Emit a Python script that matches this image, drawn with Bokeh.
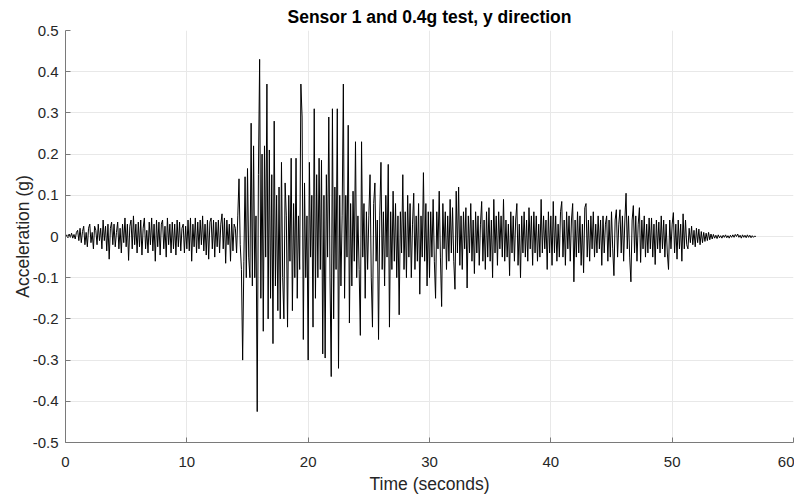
import numpy as np
from bokeh.plotting import figure
from bokeh.models import Range1d, ColumnDataSource
from bokeh.embed import file_html
from bokeh.resources import INLINE

dt = 0.1  # sample interval (s)

accel_pre = [
    0.000, 0.004, -0.003, 0.006, -0.002, 0.008, -0.004, 0.005, -0.006, 0.010,
    0.015, -0.010, 0.020, -0.015, 0.012, 0.025, -0.020, 0.010, -0.025, 0.020,
    0.030, -0.015, 0.010, -0.030, 0.025, 0.015, -0.020, 0.030, -0.010, 0.020,
    -0.030, 0.040, -0.010, 0.025, -0.035, 0.030, -0.055, 0.020, 0.035, -0.020,
    0.030, -0.025, 0.010, 0.035, -0.030, 0.020, -0.040, 0.030, -0.015, 0.045,
    -0.025, 0.030, -0.058, 0.025, 0.040, -0.030, 0.050, -0.020, 0.030, -0.040,
    0.035, -0.025, 0.040, -0.045, 0.020, 0.045, -0.030, 0.015, -0.040, 0.035,
    -0.020, 0.045, -0.035, 0.030, -0.060, 0.040, -0.025, 0.035, -0.045, 0.030,
    0.040, -0.030, 0.025, -0.050, 0.045, -0.020, 0.030, -0.040, 0.035, -0.030,
    0.030, -0.045, 0.040, -0.025, 0.035, -0.035, 0.020, 0.030, -0.040, 0.025,
    -0.030, 0.040, -0.035, 0.045, -0.060, 0.030, -0.025, 0.045, -0.040, 0.035,
    -0.030, 0.040, -0.020, 0.050, -0.035, 0.030, -0.045, 0.040, -0.055, 0.035,
    0.045, -0.030, 0.040, -0.050, 0.035, -0.025, 0.040, -0.040, 0.030, 0.055,
    -0.030, 0.045, -0.065, 0.040, -0.020, 0.030, -0.060, 0.045, -0.035, 0.030,
]

accel_strong = [
    0.020, -0.040, 0.050, 0.140, -0.020, -0.080, -0.300, -0.060, 0.145, -0.100,
    0.165, -0.050, -0.100, 0.275, -0.120, 0.220, -0.100, 0.050, -0.425, 0.150,
    0.430, -0.150, 0.200, -0.230, 0.220, -0.050, 0.370, -0.200, 0.210, -0.150,
    0.150, -0.260, 0.280, -0.120, 0.100, -0.180, 0.120, -0.200, 0.180, -0.100,
    -0.200, 0.130, 0.050, -0.220, 0.100, -0.060, 0.190, -0.180, 0.080, -0.100,
    0.190, -0.150, 0.050, -0.080, 0.370, 0.290, -0.250, 0.130, -0.100, 0.050,
    -0.300, 0.180, -0.050, 0.100, -0.220, 0.310, -0.150, 0.150, -0.100, 0.190,
    -0.080, 0.185, -0.285, 0.100, -0.295, 0.150, -0.050, 0.290, -0.100, -0.340,
    0.310, -0.200, 0.120, -0.080, 0.310, -0.320, 0.100, -0.120, 0.050, 0.370,
    -0.150, 0.100, -0.050, 0.270, -0.210, 0.080, -0.120, 0.110, -0.060, 0.230,
    -0.100, 0.050, -0.080, -0.240, 0.230, -0.050, 0.080, -0.150, 0.060, -0.080,
    0.050, 0.150, -0.100, -0.220, 0.080, 0.130, -0.060, 0.040, -0.250, 0.050,
    0.180, -0.080, 0.060, -0.120, 0.100, -0.050, 0.175, -0.220, 0.060, -0.080,
    0.110, -0.060, 0.080, -0.100, 0.050, -0.190, 0.060, -0.040, 0.150, -0.080,
    0.060, -0.100, 0.100, -0.050, 0.080, -0.100, 0.030, 0.105, -0.080, 0.050,
    -0.060, 0.080, -0.140, 0.050, -0.050, 0.155, -0.060, 0.080, -0.120, 0.060,
]

accel_decay = [
    -0.100, 0.060, -0.050, 0.090, -0.060, -0.150, 0.060, -0.030, 0.110, -0.050,
    -0.170, 0.080, -0.030, 0.060, -0.080, 0.050, -0.060, 0.090, -0.040, 0.070,
    -0.060, -0.128, 0.110, -0.040, 0.120, -0.070, 0.050, -0.080, 0.060, -0.030,
    0.070, -0.125, 0.050, -0.040, 0.080, -0.060, 0.040, -0.090, 0.060, -0.040,
    0.050, -0.070, 0.030, 0.085, -0.060, 0.040, -0.080, 0.060, -0.050, 0.070,
    -0.060, 0.040, -0.100, 0.090, -0.040, 0.050, -0.070, 0.060, -0.030, 0.050,
    -0.050, 0.090, -0.060, 0.040, -0.050, 0.030, -0.095, 0.060, -0.040, 0.050,
    -0.060, 0.040, 0.080, -0.070, 0.030, -0.100, 0.050, -0.040, 0.060, -0.050,
    0.040, -0.060, 0.070, -0.030, 0.050, -0.070, 0.060, -0.040, 0.050, -0.060,
    0.030, -0.050, 0.090, -0.040, 0.050, -0.030, 0.040, -0.080, 0.060, -0.040,
    0.050, -0.070, 0.085, -0.040, 0.050, -0.060, 0.030, -0.050, 0.060, 0.085,
    -0.050, 0.040, -0.070, 0.060, -0.030, 0.050, -0.060, 0.040, 0.080, -0.110,
    0.040, -0.050, 0.060, -0.040, 0.050, -0.070, 0.030, -0.088, 0.070, 0.080,
    -0.050, 0.040, -0.060, 0.050, -0.030, 0.060, -0.050, 0.030, -0.040, 0.050,
    -0.030, 0.040, -0.070, 0.050, -0.040, 0.030, 0.050, -0.060, 0.040, -0.050,
    0.060, -0.030, -0.095, 0.040, 0.065, -0.050, 0.030, 0.065, -0.040, 0.050,
    -0.060, 0.040, 0.105, -0.030, 0.050, -0.050, -0.110, 0.040, 0.075, -0.040,
    0.050, -0.060, 0.030, 0.070, -0.063, 0.040, -0.030, 0.050, -0.050, 0.030,
    -0.040, 0.045, -0.030, 0.045, -0.050, 0.030, -0.068, 0.040, -0.030, 0.035,
    -0.040, 0.050, -0.030, 0.040, -0.050, 0.030, -0.040, -0.080, 0.040, -0.030,
    0.030, 0.058, -0.040, 0.030, -0.055, 0.040, -0.030, 0.030, -0.060, 0.055,
    -0.030, 0.040, -0.020, -0.030, 0.020, -0.015, 0.025, -0.020, 0.015, -0.025,
]

accel_tail = [
    0.020, -0.015, 0.018, -0.020, 0.012, -0.015, 0.010, -0.012, 0.008, -0.010,
    0.010, -0.008, 0.006, -0.006, 0.005, -0.004, 0.003, -0.005, 0.004, -0.003,
    0.002, -0.004, 0.003, -0.002, 0.004, -0.003, 0.002, -0.004, 0.003, -0.002,
    0.004, -0.002, 0.005, 0.000, 0.006, -0.002, 0.003, -0.004, 0.004, -0.002,
    0.003, -0.003, 0.004, -0.002, 0.003, -0.003, 0.002, -0.002, 0.001, 0.000,
]

x_ticks = [0, 10, 20, 30, 40, 50, 60]
y_ticks = [-0.5, -0.4, -0.3, -0.2, -0.1, 0, 0.1, 0.2, 0.3, 0.4, 0.5]
y_tick_labels = ["-0.5", "-0.4", "-0.3", "-0.2", "-0.1", "0", "0.1", "0.2", "0.3", "0.4", "0.5"]

accel = np.array(accel_pre + accel_strong + accel_decay + accel_tail)
t = np.arange(len(accel)) * dt
src = ColumnDataSource(dict(t=t, a=accel))

FONT = "Liberation Sans"
TXT = "#262626"

p = figure(frame_width=728, frame_height=412, output_backend="svg", toolbar_location=None,
           x_range=Range1d(0, 60), y_range=Range1d(-0.5, 0.5),
           min_border_left=65, min_border_right=1, min_border_top=1, min_border_bottom=30)

p.line("t", "a", source=src, line_color="black", line_width=1)

p.title.text = "Sensor 1 and 0.4g test, y direction"
p.title.align = "center"
p.title.text_font = FONT
p.title.text_font_style = "bold"
p.title.text_font_size = "17.5px"
p.title.text_color = "black"
p.title.standoff = 8

p.xaxis.ticker = x_ticks
p.yaxis.ticker = y_ticks
p.yaxis.major_label_overrides = {v: s for v, s in zip(y_ticks, y_tick_labels)}
p.xaxis.axis_label = "Time (seconds)"
p.yaxis.axis_label = "Acceleration (g)"

for ax in (p.xaxis, p.yaxis):
    ax.axis_label_text_font = FONT
    ax.axis_label_text_font_style = "normal"
    ax.axis_label_text_font_size = "17.5px"
    ax.axis_label_text_color = TXT
    ax.major_label_text_font = FONT
    ax.major_label_text_font_size = "15px"
    ax.major_label_text_color = TXT
    ax.axis_line_color = "#7a7a7a"
    ax.major_tick_line_color = "#7a7a7a"
    ax.major_tick_in = 5
    ax.major_tick_out = 0
    ax.minor_tick_line_color = None
p.xaxis.major_label_standoff = 14
p.yaxis.major_label_standoff = 7
p.xaxis.axis_label_standoff = 4
p.yaxis.axis_label_standoff = -3

p.xgrid.grid_line_color = "#e8e8e8"
p.ygrid.grid_line_color = "#e8e8e8"
p.outline_line_color = None
p.background_fill_color = "white"
p.border_fill_color = "white"

open("out.html", "w").write(file_html(p, INLINE))
